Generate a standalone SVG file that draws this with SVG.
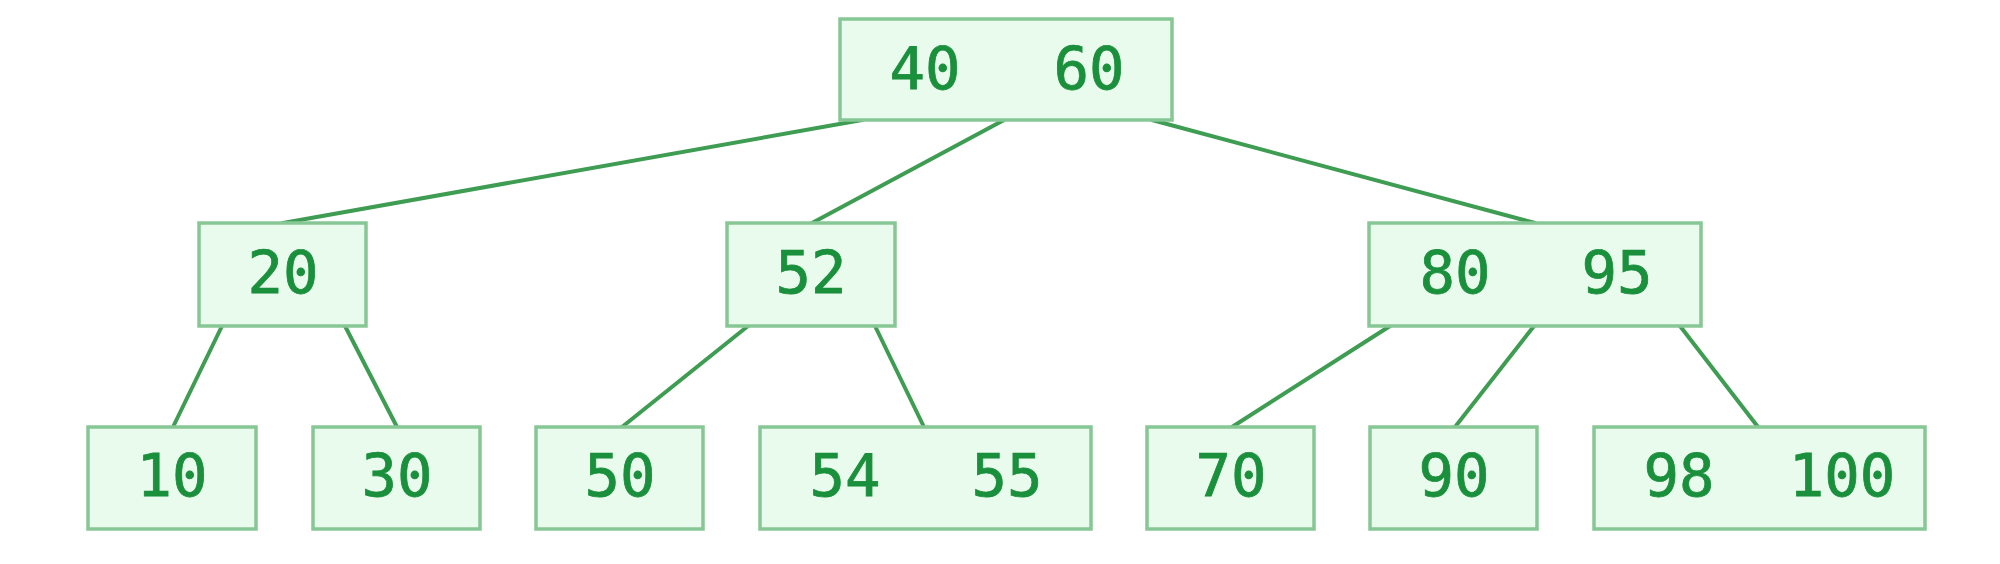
<svg xmlns="http://www.w3.org/2000/svg" width="2000" height="564" viewBox="0 0 2000 564">
<style>
.box{fill:#e9fbec;stroke:#86c795;stroke-width:3.5}
.t{font-family:"DejaVu Sans Mono","Liberation Mono",monospace;font-size:59px;fill:#1a8f3c;text-anchor:middle;stroke:#1a8f3c;stroke-width:0.8}
.e{stroke:#3e9d52;stroke-width:4;fill:none;stroke-linecap:round}
</style>
<rect width="2000" height="564" fill="#ffffff"/>
<g id="connectors">
<line class="e" x1="862" y1="120" x2="283" y2="223"/>
<line class="e" x1="1004" y1="120" x2="812" y2="223"/>
<line class="e" x1="1152" y1="120" x2="1535" y2="223"/>
<line class="e" x1="222" y1="326" x2="173" y2="427"/>
<line class="e" x1="345" y1="326" x2="397" y2="427"/>
<line class="e" x1="748" y1="326" x2="622" y2="427"/>
<line class="e" x1="875" y1="326" x2="924" y2="427"/>
<line class="e" x1="1390" y1="326" x2="1232" y2="427"/>
<line class="e" x1="1534" y1="326" x2="1455" y2="427"/>
<line class="e" x1="1680" y1="326" x2="1758" y2="427"/>
</g>
<g id="n40_60"><rect class="box" x="840" y="19" width="332" height="101"/><text class="t" x="925" y="89">40</text><text class="t" x="1089" y="89">60</text></g>
<g id="n20"><rect class="box" x="199" y="223" width="167" height="103"/><text class="t" x="283" y="293">20</text></g>
<g id="n52"><rect class="box" x="727" y="223" width="168" height="103"/><text class="t" x="811" y="293">52</text></g>
<g id="n80_95"><rect class="box" x="1369" y="223" width="332" height="103"/><text class="t" x="1455" y="293">80</text><text class="t" x="1617" y="293">95</text></g>
<g id="n10"><rect class="box" x="88" y="427" width="168" height="102"/><text class="t" x="172" y="496">10</text></g>
<g id="n30"><rect class="box" x="313" y="427" width="167" height="102"/><text class="t" x="397" y="496">30</text></g>
<g id="n50"><rect class="box" x="536" y="427" width="167" height="102"/><text class="t" x="620" y="496">50</text></g>
<g id="n54_55"><rect class="box" x="760" y="427" width="331" height="102"/><text class="t" x="845" y="496">54</text><text class="t" x="1007" y="496">55</text></g>
<g id="n70"><rect class="box" x="1147" y="427" width="167" height="102"/><text class="t" x="1231" y="496">70</text></g>
<g id="n90"><rect class="box" x="1370" y="427" width="167" height="102"/><text class="t" x="1454" y="496">90</text></g>
<g id="n98_100"><rect class="box" x="1594" y="427" width="331" height="102"/><text class="t" x="1679" y="496">98</text><text class="t" x="1842" y="496">100</text></g>
</svg>
